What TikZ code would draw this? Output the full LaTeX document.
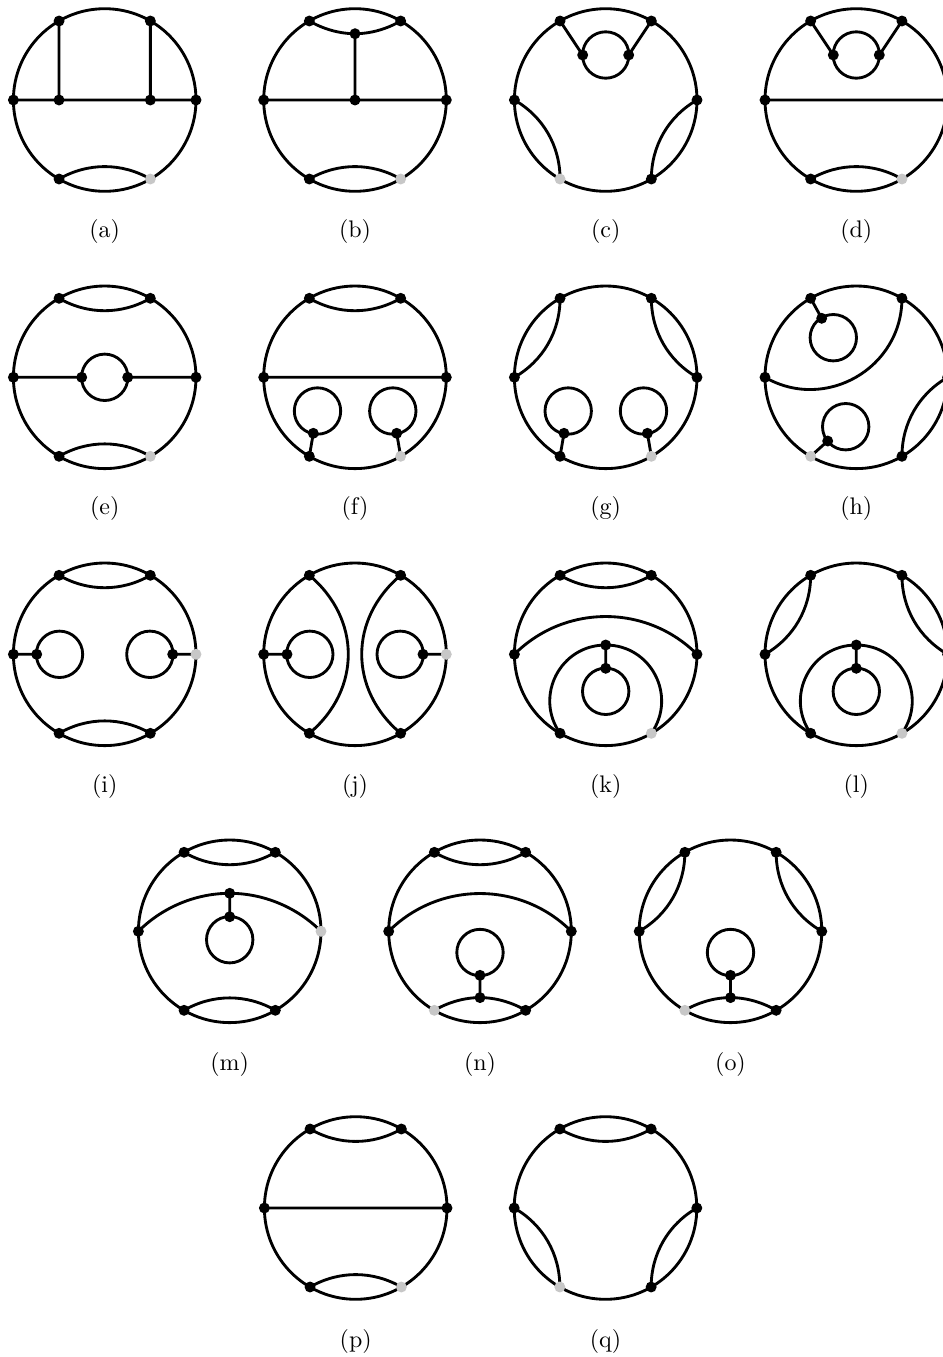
\documentclass[tikz,border=0pt]{standalone}
\usetikzlibrary{backgrounds}
\definecolor{dotgrey}{gray}{0.78}
\tikzset{
  edge/.style={line width=1.3pt,black},
  dot/.style={circle,fill=black,inner sep=0pt,minimum size=5pt},
  greyfill/.style={fill=dotgrey},
  lab/.style={inner sep=0pt,font=\fontsize{10.95}{13}\selectfont},
  hE/.style={},hNE/.style={},hNW/.style={},hW/.style={},hSW/.style={},hSE/.style={},
  bulgeL/.style={bend left=30,looseness=.93},
  bulgeR/.style={bend right=30,looseness=.93},
  halfin/.style={out=-30,in=180,looseness=.86},
  halfout/.style={out=0,in=-150,looseness=.86},
  halfinup/.style={out=30,in=180,looseness=.86},
  halfoutup/.style={out=0,in=150,looseness=.86},
  widearc/.style={bend left=45},
  wideinl/.style={out=45,in=180,looseness=.88},
  wideinr/.style={out=0,in=135,looseness=.88},
  hoodl/.style={out=125,in=180,looseness=1.17},
  hoodr/.style={out=0,in=55,looseness=1.17}
}
\newcommand\hexv[1]{%
  \tikzset{h#1/.style={greyfill}}%
  \coordinate (O) at (0,0);
  \node[dot,hE] (E) at (91.3,0) {};
  \node[dot,hNE] (NE) at (45.65,-79) {};
  \node[dot,hNW] (NW) at (-45.65,-79) {};
  \node[dot,hW] (W) at (-91.3,0) {};
  \node[dot,hSW] (SW) at (-45.65,79) {};
  \node[dot,hSE] (SE) at (45.65,79) {};
  \begin{pgfonlayer}{background}\draw[edge] (O) circle[radius=91.3];\end{pgfonlayer}
}
\newcommand\vtx[3]{\node[dot] (#1) at (#2,#3) {};}
\newcommand\edges[1]{\begin{pgfonlayer}{background}\draw[edge] #1;\end{pgfonlayer}}
\newcommand\loopat[3]{\coordinate (#1) at (#2,#3);\edges{(#1) circle[radius=23.2]}}
\newcommand\tag[2]{\node[lab] (lbl) at (0,#1) {#2};}
\begin{document}
\begin{tikzpicture}[x=0.4566pt,y=-0.4566pt]
\useasboundingbox (0,0) rectangle (943,1357);
% (a)
\begin{scope}[shift={(104.7,100)},name prefix=a-]
\hexv{SE}\vtx{p}{-45.65}{0}\vtx{q}{45.65}{0}
\edges{(W.center) -- (E.center) (NW.center) -- (p.center) (NE.center) -- (q.center) (SW.center) to[bulgeL] (SE.center)}
\tag{131}{(a)}
\end{scope}
% (b)
\begin{scope}[shift={(355,100)},name prefix=b-]
\hexv{SE}\vtx{m}{0}{-66.3}\vtx{q}{0}{0}
\edges{(W.center) -- (E.center) (m.center) -- (q.center) (NW.center) to[halfin] (m.center) (m.center) to[halfout] (NE.center) (SW.center) to[bulgeL] (SE.center)}
\tag{131}{(b)}
\end{scope}
% (c)
\begin{scope}[shift={(605.7,100)},name prefix=c-]
\hexv{SW}\vtx{l}{-23}{-45}\vtx{r}{23}{-45}\loopat{lc}{0}{-45}
\edges{(NW.center) -- (l.center) (NE.center) -- (r.center) (W.center) to[bulgeL] (SW.center) (E.center) to[bulgeR] (SE.center)}
\tag{131}{(c)}
\end{scope}
% (d)
\begin{scope}[shift={(856.3,100)},name prefix=d-]
\hexv{SE}\vtx{l}{-23}{-45}\vtx{r}{23}{-45}\loopat{lc}{0}{-45}
\edges{(NW.center) -- (l.center) (NE.center) -- (r.center) (W.center) -- (E.center) (SW.center) to[bulgeL] (SE.center)}
\tag{131}{(d)}
\end{scope}
% (e)
\begin{scope}[shift={(104.7,377.3)},name prefix=e-]
\hexv{SE}\vtx{l}{-23}{0}\vtx{r}{23}{0}\loopat{lc}{0}{0}
\edges{(W.center) -- (l.center) (r.center) -- (E.center) (NW.center) to[bulgeR] (NE.center) (SW.center) to[bulgeL] (SE.center)}
\tag{131}{(e)}
\end{scope}
% (f)
\begin{scope}[shift={(355,377.3)},name prefix=f-]
\hexv{SE}\vtx{l}{-41.7}{56}\vtx{r}{41.7}{56}\loopat{lc}{-37.5}{33.7}\loopat{rc}{37.8}{33.7}
\edges{(W.center) -- (E.center) (NW.center) to[bulgeR] (NE.center) (SW.center) -- (l.center) (SE.center) -- (r.center)}
\tag{131}{(f)}
\end{scope}
% (g)
\begin{scope}[shift={(605.7,377.3)},name prefix=g-]
\hexv{SE}\vtx{l}{-41.7}{56}\vtx{r}{41.7}{56}\loopat{lc}{-37.5}{33.7}\loopat{rc}{37.8}{33.7}
\edges{(NW.center) to[bulgeL] (W.center) (NE.center) to[bulgeR] (E.center) (SW.center) -- (l.center) (SE.center) -- (r.center)}
\tag{131}{(g)}
\end{scope}
% (h)
\begin{scope}[shift={(856.3,377.3)},name prefix=h-]
\hexv{SW}\vtx{l}{-34.6}{-59}\vtx{r}{-28.6}{63.7}\loopat{lc}{-23}{-39.6}\loopat{rc}{-10.6}{49.4}
\edges{(NW.center) -- (l.center) (SW.center) -- (r.center) (W.center) to[bend right=60,looseness=1.13] (NE.center) (E.center) to[bulgeR] (SE.center)}
\tag{131}{(h)}
\end{scope}
% (i)
\begin{scope}[shift={(104.7,654.3)},name prefix=i-]
\hexv{E}\vtx{l}{-68}{0}\vtx{r}{68}{0}\loopat{lc}{-45.2}{0}\loopat{rc}{45.2}{0}
\edges{(W.center) -- (l.center) (E.center) -- (r.center) (NW.center) to[bulgeR] (NE.center) (SW.center) to[bulgeL] (SE.center)}
\tag{132}{(i)}
\end{scope}
% (j)
\begin{scope}[shift={(355,654.3)},name prefix=j-]
\hexv{E}\vtx{l}{-68}{0}\vtx{r}{68}{0}\loopat{lc}{-45.2}{0}\loopat{rc}{45.2}{0}
\edges{(W.center) -- (l.center) (E.center) -- (r.center) (NW.center) to[bend left=50,looseness=1.1] (SW.center) (NE.center) to[bend right=50,looseness=1.1] (SE.center)}
\tag{132}{(j)}
\end{scope}
% (k)
\begin{scope}[shift={(605.7,654.3)},name prefix=k-]
\hexv{SE}\vtx{t}{0}{-9.3}\vtx{u}{0}{14}\loopat{lc}{0}{37}
\edges{(NW.center) to[bulgeR] (NE.center) (W.center) to[widearc] (E.center) (t.center) -- (u.center) (SW.center) to[hoodl] (t.center) (t.center) to[hoodr] (SE.center)}
\tag{132}{(k)}
\end{scope}
% (l)
\begin{scope}[shift={(856.3,654.3)},name prefix=l-]
\hexv{SE}\vtx{t}{0}{-9.3}\vtx{u}{0}{14}\loopat{lc}{0}{37}
\edges{(NW.center) to[bulgeL] (W.center) (NE.center) to[bulgeR] (E.center) (t.center) -- (u.center) (SW.center) to[hoodl] (t.center) (t.center) to[hoodr] (SE.center)}
\tag{132}{(l)}
\end{scope}
% (m)
\begin{scope}[shift={(229.7,931.3)},name prefix=m-]
\hexv{E}\vtx{t}{0}{-38}\vtx{u}{0}{-14.6}\loopat{lc}{0}{8.4}
\edges{(NW.center) to[bulgeR] (NE.center) (SW.center) to[bulgeL] (SE.center) (W.center) to[wideinl] (t.center) (t.center) to[wideinr] (E.center) (t.center) -- (u.center)}
\tag{133}{(m)}
\end{scope}
% (n)
\begin{scope}[shift={(480,931.3)},name prefix=n-]
\hexv{SW}\vtx{t}{0}{66.3}\vtx{u}{0}{44}\loopat{lc}{0}{21.2}
\edges{(NW.center) to[bulgeR] (NE.center) (W.center) to[widearc] (E.center) (SW.center) to[halfinup] (t.center) (t.center) to[halfoutup] (SE.center) (t.center) -- (u.center)}
\tag{133}{(n)}
\end{scope}
% (o)
\begin{scope}[shift={(730.5,931.3)},name prefix=o-]
\hexv{SW}\vtx{t}{0}{66.3}\vtx{u}{0}{44}\loopat{lc}{0}{21.2}
\edges{(NW.center) to[bulgeL] (W.center) (NE.center) to[bulgeR] (E.center) (SW.center) to[halfinup] (t.center) (t.center) to[halfoutup] (SE.center) (t.center) -- (u.center)}
\tag{133}{(o)}
\end{scope}
% (p)
\begin{scope}[shift={(355.7,1208)},name prefix=p-]
\hexv{SE}
\edges{(NW.center) to[bulgeR] (NE.center) (W.center) -- (E.center) (SW.center) to[bulgeL] (SE.center)}
\tag{133}{(p)}
\end{scope}
% (q)
\begin{scope}[shift={(605.5,1208)},name prefix=q-]
\hexv{SW}
\edges{(NW.center) to[bulgeR] (NE.center) (W.center) to[bulgeL] (SW.center) (E.center) to[bulgeR] (SE.center)}
\tag{133}{(q)}
\end{scope}
\end{tikzpicture}
\end{document}
